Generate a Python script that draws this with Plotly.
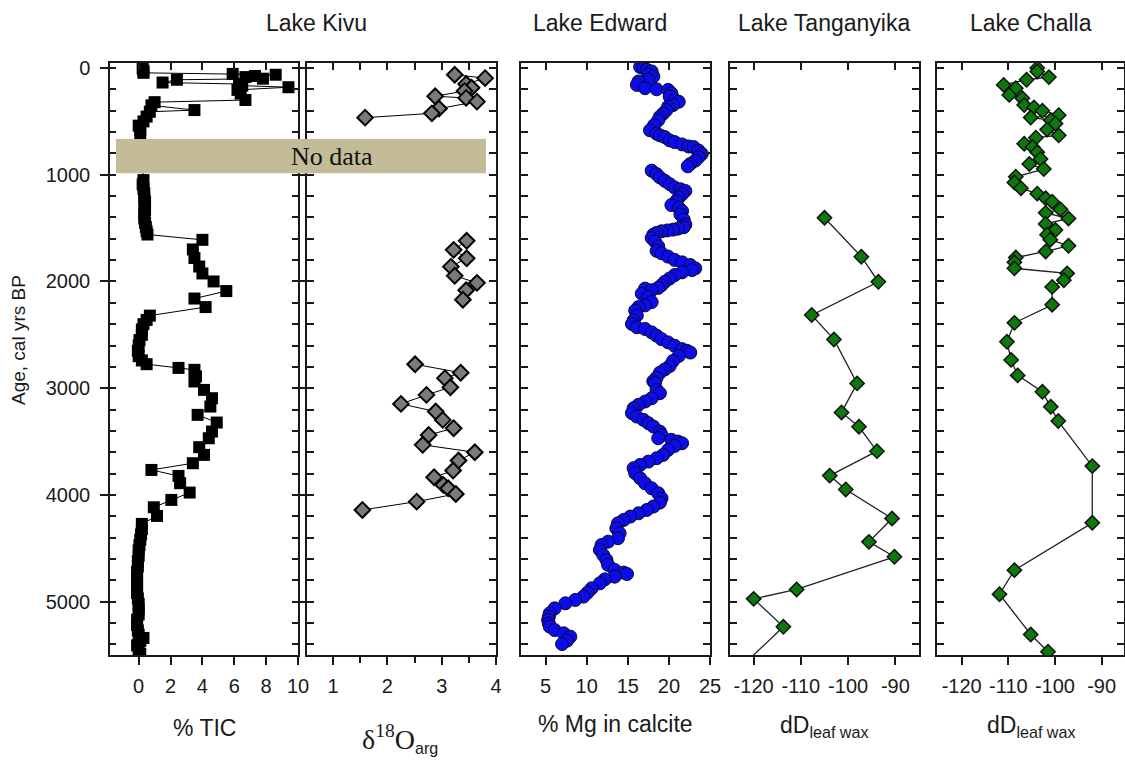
import plotly.graph_objects as go

W, H = 1125, 761

# ---------------- data ----------------
# Lake Kivu, % TIC (age, value)
tic_age = [5, 25, 45, 55, 63, 75, 85, 100, 110, 136, 150, 165, 180, 205, 240, 300, 320, 350, 394, 410,
           455, 500, 540, 580, 615,
           1050, 1090, 1130, 1170, 1210, 1250, 1290, 1330, 1370, 1410, 1450, 1490, 1530, 1560,
           1610, 1700, 1780, 1860, 1925, 2000, 2090, 2160, 2240,
           2320, 2360, 2400, 2450, 2500, 2550, 2600, 2650, 2700, 2740, 2775, 2810, 2828, 2890, 2937,
           3016, 3094, 3172, 3250, 3322, 3406, 3469, 3553, 3625, 3703, 3766, 3822, 3890, 3978, 4047,
           4116, 4197, 4272, 4320, 4370, 4420, 4470, 4520, 4570, 4620, 4670, 4720, 4770, 4820, 4870,
           4920, 4970, 5020, 5070, 5120, 5170, 5220, 5270, 5310, 5340, 5370, 5410, 5450, 5490]
tic_val = [0.25, 0.3, 0.3, 5.9, 8.6, 7.3, 6.7, 7.8, 2.4, 1.5, 6.3, 6.5, 9.4, 6.2, 6.4, 6.7, 1.0, 0.8, 3.5, 0.7,
           0.5, 0.3, 0.0, 0.1, 0.1,
           0.3, 0.25, 0.3, 0.35, 0.35, 0.4, 0.35, 0.4, 0.35, 0.35, 0.4, 0.45, 0.5, 0.55,
           4.0, 3.4, 3.5, 3.8, 4.0, 4.7, 5.5, 3.5, 4.2,
           0.7, 0.5, 0.3, 0.2, 0.2, 0.05, 0.0, -0.05, 0.0, 0.2, 0.5, 2.5, 3.5, 3.6, 3.5,
           4.1, 4.6, 4.5, 3.7, 4.9, 4.6, 4.4, 3.8, 4.1, 3.4, 0.8, 2.5, 2.6, 3.2, 2.05,
           0.95, 1.15, 0.2, 0.2, 0.15, 0.1, 0.05, 0.0, 0.0, -0.05, -0.05, -0.1, -0.1, -0.1, -0.1,
           -0.1, -0.05, 0.0, 0.0, 0.0, -0.1, -0.1, -0.05, 0.0, 0.3, 0.1, -0.1, 0.0, 0.1]

# Lake Kivu, d18O aragonite (None separates the three sections)
d18o_age = [63, 95, 150, 185, 215, 265, 280, 315, 380, 425, 465, None,
            1619, 1704, 1783, 1861, 1947, 2013, 2082, 2171, None,
            2776, 2855, 2906, 2991, 3063, 3147, 3219, 3297, 3375, 3438, 3531, 3600, 3678, 3772,
            3834, 3906, 3938, 3991, 4063, 4141]
d18o_val = [3.24, 3.80, 3.45, 3.55, 3.42, 2.88, 3.45, 3.65, 2.95, 2.82, 1.59, None,
            3.46, 3.22, 3.46, 3.17, 3.24, 3.65, 3.45, 3.39, None,
            2.51, 3.35, 3.06, 3.16, 2.72, 2.25, 2.89, 3.02, 3.22, 2.76, 2.65, 3.61, 3.31, 3.21,
            2.86, 3.03, 3.12, 3.26, 2.54, 1.54]

# Lake Edward, % Mg in calcite
mg_age = [-10, 0, 16, 32, 63, 79, 110, 126, 158, 189, 199, 205, 237, 268, 300, 316, 347, 363, 394, 426,
          457, 489, 536, 584, 615, 631, 647, 678, 694, 716, 735, 741, 773, 805, 836, 868, 899, 921,
          962, 994, 1025, 1057, 1088, 1120, 1136, 1152, 1183, 1215, 1246, 1284, 1309, 1341, 1372,
          1420, 1467, 1492, 1505, 1514, 1522, 1530, 1545, 1562, 1593, 1625, 1672, 1713, 1735, 1767,
          1798, 1821, 1846, 1877, 1893, 1915, 1940, 1972, 2003, 2035, 2060, 2067, 2082, 2114, 2145,
          2193, 2224, 2240, 2272, 2319, 2366, 2398, 2429, 2445, 2477, 2508, 2540, 2571, 2603, 2634,
          2650, 2666, 2698, 2745, 2792, 2824, 2855, 2903, 2934,
          2953, 3016, 3047, 3094, 3125, 3156, 3188, 3234, 3266, 3297, 3328, 3359, 3406, 3438, 3469,
          3484, 3500, 3516, 3541, 3578, 3625, 3656, 3688, 3719, 3750, 3797, 3844, 3891, 3938, 3984,
          4031, 4072, 4109, 4141, 4172, 4203, 4234, 4266, 4313, 4359, 4406, 4438, 4469, 4516, 4563,
          4609, 4656, 4703, 4728, 4741, 4766, 4791, 4828, 4875, 4915, 4953, 4984, 5016, 5063, 5109,
          5140, 5172, 5205, 5234, 5266, 5297, 5328, 5366, 5397]
mg_val = [16.5, 16.9, 17.3, 17.9, 17.5, 18.1, 17.5, 16.3, 16.1, 17.1, 18.5, 19.9, 20.3, 20.1, 20.7, 21.2, 20.5, 19.9, 19.7, 19.3,
          18.9, 18.7, 18.2, 17.7, 18.5, 18.9, 19.5, 20.1, 20.7, 21.6, 22.4, 23.0, 23.6, 24.0, 23.6, 23.2, 22.6, 22.3,
          17.9, 18.5, 18.9, 19.5, 20.1, 20.7, 21.4, 22.0, 21.6, 21.2, 20.9, 20.3, 21.2, 21.6, 21.4,
          21.8, 22.0, 21.8, 21.1, 20.5, 19.8, 19.1, 18.5, 18.1, 17.9, 18.3, 18.7, 18.5, 19.1, 19.9,
          20.7, 21.6, 22.6, 23.2, 22.8, 21.6, 20.7, 20.1, 19.5, 19.1, 18.7, 17.1, 17.9, 16.7, 17.5,
          17.9, 17.1, 16.3, 15.9, 16.1, 15.7, 15.5, 16.1, 17.1, 17.9, 18.5, 19.1, 19.9, 20.7, 21.6,
          22.2, 22.6, 21.2, 20.5, 20.1, 19.5, 18.9, 18.5, 18.1,
          18.3, 18.5, 18.9, 17.9, 17.1, 16.3, 15.7, 15.5, 16.1, 16.9, 17.5, 18.1, 18.9, 19.1, 18.7,
          20.3, 21.1, 21.6, 20.7, 19.9, 19.3, 18.5, 17.5, 16.5, 15.7, 15.9, 16.5, 17.1, 17.9, 18.7,
          19.1, 18.9, 18.1, 17.3, 16.3, 15.3, 14.5, 13.8, 13.6, 14.0, 13.8, 12.6, 11.8, 11.6, 12.0,
          12.4, 12.6, 13.4, 14.5, 14.9, 13.4, 12.2, 11.6, 10.6, 10.1, 9.6, 8.6, 7.4, 6.1, 5.5,
          5.4, 5.3, 5.4, 5.5, 6.1, 7.2, 8.0, 7.6, 7.0]

# Lake Tanganyika, dD leaf wax
tang_age = [1403, 1768, 2003, 2315, 2543, 2955, 3227, 3362, 3590, 3819, 3949, 4221, 4440, 4580,
            4886, 4974, 5236, 5600]
tang_val = [-105.0, -97.2, -93.6, -107.7, -103.0, -98.1, -101.4, -97.7, -93.9, -103.9, -100.5,
            -90.7, -95.6, -90.2, -110.9, -120.0, -113.7, -122.4]

# Lake Challa, dD leaf wax
challa_age = [0, 32, 85, 110, 158, 189, 252, 284, 347, 369, 401, 442, 464, 489, 521, 577, 631, 653,
              710, 741, 789, 852, 899, 947, 1019, 1073, 1126, 1177, 1221, 1253, 1325, 1357, 1410,
              1461, 1518, 1562, 1609, 1666, 1719, 1776, 1820, 1877, 1924, 1988, 2051, 2218, 2388,
              2565, 2735, 2880, 3034, 3174, 3308, 3730, 4261, 4705, 4930, 5308, 5470]
challa_val = [-103.8, -103.8, -101.3, -106.1, -111.0, -108.4, -109.8, -107.0, -106.6, -104.5,
              -102.7, -99.2, -105.2, -100.9, -99.9, -101.7, -99.2, -104.1, -106.6, -104.8, -103.8,
              -103.1, -105.5, -102.4, -108.4, -108.7, -107.3, -103.8, -102.0, -100.6, -98.8,
              -102.0, -97.1, -102.0, -99.9, -101.7, -101.0, -97.1, -102.0, -108.4, -108.7, -108.7,
              -97.4, -98.1, -100.6, -100.6, -108.7, -110.3, -109.4, -108.0, -102.7, -100.9, -99.3,
              -92.0, -92.0, -108.7, -111.9, -105.2, -101.5]

# tick labels
dd_tickvals = [-120, -110, -100, -90]
dd_ticktext = ["-120", "-110", "-100", "-90"]

lake_titles = ["Lake Kivu", "Lake Edward", "Lake Tanganyika", "Lake Challa"]
axis_titles = ["% TIC",
               "<span style='font-family:Liberation Serif;font-size:28px'>δ<sup>18</sup>O</span><sub>arg</sub>",
               "% Mg in calcite", "dD<sub>leaf wax</sub>", "dD<sub>leaf wax</sub>"]

# ---------------- layout helpers ----------------
SANS = "Liberation Sans, Arial, sans-serif"
INK = "#1a1a1a"
xpix = [(110, 298), (307, 496), (521, 710), (730, 919), (937, 1124)]
xranges = [[-1.8, 10], [0.52, 4], [2, 25], [-125, -85], [-125.3, -85.2]]
xtick0 = [0, 1, 5, -120, -120]
xdtick = [2, 1, 5, 10, 10]
xtop_dtick = [2, 0.5, 5, 10, 10]
ydom = [1 - 655 / H, 1 - 63 / H]
yrange = [5500, -47]

fig = go.Figure()

fig.add_trace(go.Scatter(
    x=tic_val, y=tic_age, xaxis="x", yaxis="y", mode="lines+markers",
    line=dict(color="black", width=1),
    marker=dict(symbol="square", size=12, color="black", line=dict(color="black", width=0)),
    showlegend=False))
fig.add_trace(go.Scatter(
    x=d18o_val, y=d18o_age, xaxis="x2", yaxis="y2", mode="lines+markers",
    line=dict(color="black", width=1),
    marker=dict(symbol="diamond", size=12, color="#7a7a7a", line=dict(color="black", width=2)),
    showlegend=False))
fig.add_trace(go.Scatter(
    x=mg_val, y=mg_age, xaxis="x3", yaxis="y3", mode="markers",
    marker=dict(symbol="circle", size=13, color="#0c0cec", line=dict(color="#0a0a30", width=1)),
    showlegend=False))
fig.add_trace(go.Scatter(
    x=tang_val, y=tang_age, xaxis="x4", yaxis="y4", mode="lines+markers",
    line=dict(color="#222222", width=1.3),
    marker=dict(symbol="diamond", size=11, color="#0b7a0b", line=dict(color="#111111", width=1.5)),
    showlegend=False))
fig.add_trace(go.Scatter(
    x=challa_val, y=challa_age, xaxis="x5", yaxis="y5", mode="lines+markers",
    line=dict(color="#222222", width=1.3),
    marker=dict(symbol="diamond", size=11, color="#0b7a0b", line=dict(color="#111111", width=1.5)),
    showlegend=False))

layout = dict(
    width=W, height=H, margin=dict(l=0, r=0, t=0, b=0),
    paper_bgcolor="white", plot_bgcolor="white", template="none",
    font=dict(family=SANS, size=20, color=INK),
    showlegend=False,
)

for i in range(5):
    n = i + 1
    sx = "" if n == 1 else str(n)
    dom = [xpix[i][0] / W, xpix[i][1] / W]
    xa = dict(domain=dom, range=xranges[i], anchor="y" + sx, showgrid=False, zeroline=False,
              showline=True, linecolor=INK, linewidth=1.5, mirror=True,
              ticks="outside", ticklen=8, tickwidth=1.5, tickcolor=INK,
              tick0=xtick0[i], dtick=xdtick[i], tickfont=dict(size=20, family=SANS, color=INK),
              ticklabelstandoff=4)
    if n >= 4:
        xa.update(tickmode="array", tickvals=dd_tickvals, ticktext=dd_ticktext)
    if n == 2:
        xa["minor"] = dict(ticks="outside", dtick=0.5, tick0=0.5, ticklen=6, tickwidth=1.5, tickcolor=INK)
    layout["xaxis" + sx] = xa
    # top axis with inside ticks
    layout["xaxis" + str(n + 5)] = dict(
        overlaying="x" + sx, side="top", anchor="y" + sx, range=xranges[i],
        showgrid=False, zeroline=False, showline=False, showticklabels=False,
        ticks="inside", ticklen=7, tickwidth=1.5, tickcolor=INK,
        tick0=xtick0[i], dtick=xtop_dtick[i])
    ya = dict(domain=ydom, range=yrange, anchor="x" + sx, showgrid=False, zeroline=False,
              showline=True, linecolor=INK, linewidth=1.5, mirror="ticks",
              ticks="inside", ticklen=7, tickwidth=1.5, tickcolor=INK,
              tick0=0, dtick=200, showticklabels=False)
    if n == 1:
        ya.update(ticks="outside", ticklen=8, dtick=1000, showticklabels=True,
                  tickfont=dict(size=20, family=SANS, color=INK), ticklabelstandoff=6,
                  minor=dict(ticks="inside", dtick=200, tick0=0, ticklen=6, tickwidth=1.5, tickcolor=INK))
    layout["yaxis" + sx] = ya
    fig.add_trace(go.Scatter(x=[], y=[], xaxis="x" + str(n + 5), yaxis="y" + sx, showlegend=False))

fig.update_layout(**layout)

# No data band (in age units on the Kivu axis)
fig.add_shape(type="rect", xref="paper", yref="y", x0=116 / W, x1=486 / W, y0=665, y1=985,
              fillcolor="#c4bc98", line=dict(width=0), layer="above")
fig.add_annotation(text="No data", xref="paper", yref="y", x=289 / W, y=825, showarrow=False,
                   font=dict(family="Liberation Serif, Times New Roman, serif", size=26, color="#111111"))

# Lake titles
title_x = [316, 600, 824, 1031]
for t, xc in zip(lake_titles, title_x):
    fig.add_annotation(text=t, xref="paper", yref="paper", x=xc / W, y=1 - 23 / H,
                       xanchor="center", yanchor="middle", showarrow=False,
                       font=dict(size=23, family=SANS, color=INK))

# axis titles below
atx = [204, 400, 615, 824, 1031]
aty = [728, 738, 724, 726, 726]
for t, xc, yc in zip(axis_titles, atx, aty):
    fig.add_annotation(text=t, xref="paper", yref="paper", x=xc / W, y=1 - yc / H,
                       xanchor="center", yanchor="middle", showarrow=False,
                       font=dict(size=23, family=SANS, color=INK))

# y title
fig.add_annotation(text="Age, cal yrs BP", xref="paper", yref="paper", x=19 / W, y=1 - 340 / H,
                   xanchor="center", yanchor="middle", textangle=-90, showarrow=False,
                   font=dict(size=19, family=SANS, color=INK))

fig.write_html("out.html")
